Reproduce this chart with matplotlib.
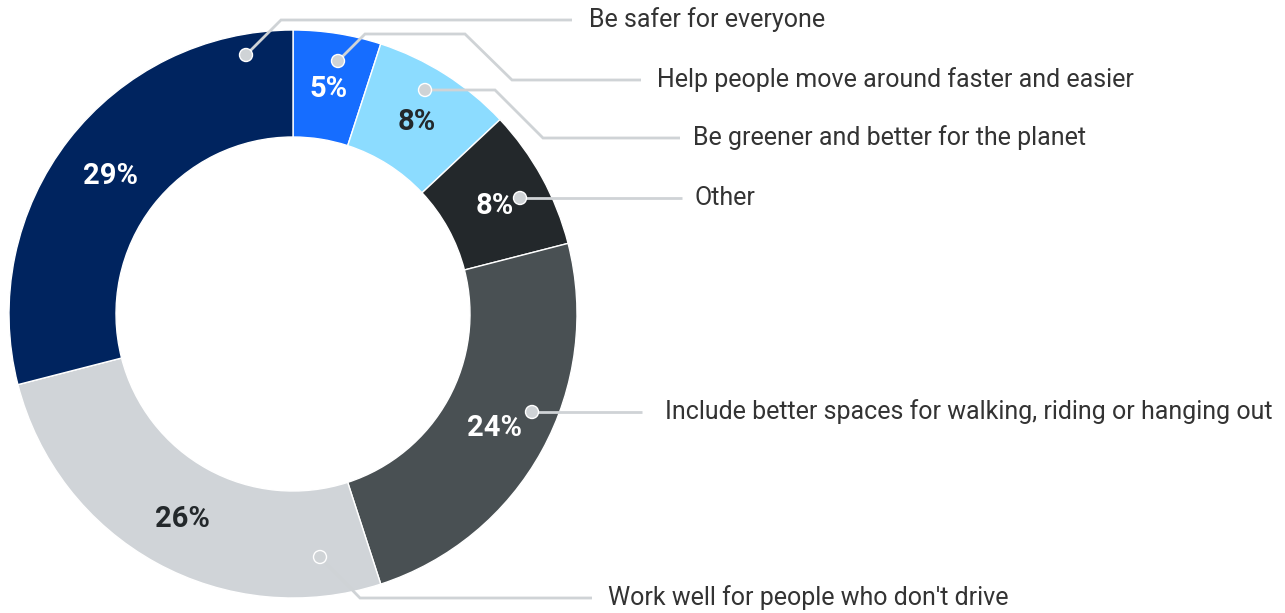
import matplotlib.pyplot as plt
from matplotlib.patches import Circle

# Survey shares, clockwise from 12 o'clock
labels = [
    "Help people move around faster and easier",
    "Be greener and better for the planet",
    "Other",
    "Include better spaces for walking, riding or hanging out",
    "Work well for people who don't drive",
    "Be safer for everyone",
]
values = [5, 8, 8, 24, 26, 29]
colors = ["#166dff", "#8cdcff", "#23282b", "#495053", "#d0d4d8", "#00245f"]
pct_colors = ["white", "#23282b", "white", "white", "#23282b", "white"]

W, H = 1285, 613
CX, CY = 293, H - 314
R_OUT, R_IN = 284, 177
LINE = "#cfd3d6"

# leader routes in pixel coords (y down): dot first, text after the last point
routes = [
    [(338, 61), (365, 34), (465, 34), (512, 80), (641, 80)],
    [(425, 90), (495, 90), (543, 138), (680, 138)],
    [(520, 198), (682, 198)],
    [(532, 412), (642, 412)],
    [(320, 557), (360, 598), (592, 598)],
    [(246, 55), (281, 20), (572, 20)],
]
text_x = [657, 693, 695, 665, 608, 589]

fig = plt.figure(figsize=(W / 100, H / 100), dpi=100)
ax = fig.add_axes([0, 0, 1, 1])

wedges, _, autotexts = ax.pie(
    values, colors=colors, startangle=90, counterclock=False,
    center=(CX, CY), radius=R_OUT, frame=True,
    wedgeprops=dict(width=R_OUT - R_IN, edgecolor="white", linewidth=1),
    autopct="%d%%", pctdistance=(R_OUT + R_IN) / 2 / R_OUT,
    textprops=dict(fontsize=21, fontweight="bold", family="Roboto"))
ax.set_xlim(0, W)
ax.set_ylim(0, H)
ax.set_aspect("equal")
ax.axis("off")

for t, c in zip(autotexts, pct_colors):
    t.set_color(c)
    x, y = t.get_position()
    t.set_position((x, y - 3))

for route, label, tx in zip(routes, labels, text_x):
    xs = [p[0] for p in route]
    ys = [H - p[1] for p in route]
    ax.plot(xs, ys, color=LINE, lw=2, solid_capstyle="butt",
            solid_joinstyle="miter", zorder=4)
    ax.add_patch(Circle((xs[0], ys[0]), 6.5, facecolor=LINE, edgecolor="white",
                        lw=1, zorder=5))
    ax.text(tx, ys[-1], label, fontsize=18, color="#333333", va="center",
            ha="left", family="Roboto")

fig.savefig("out.png", dpi=100)
